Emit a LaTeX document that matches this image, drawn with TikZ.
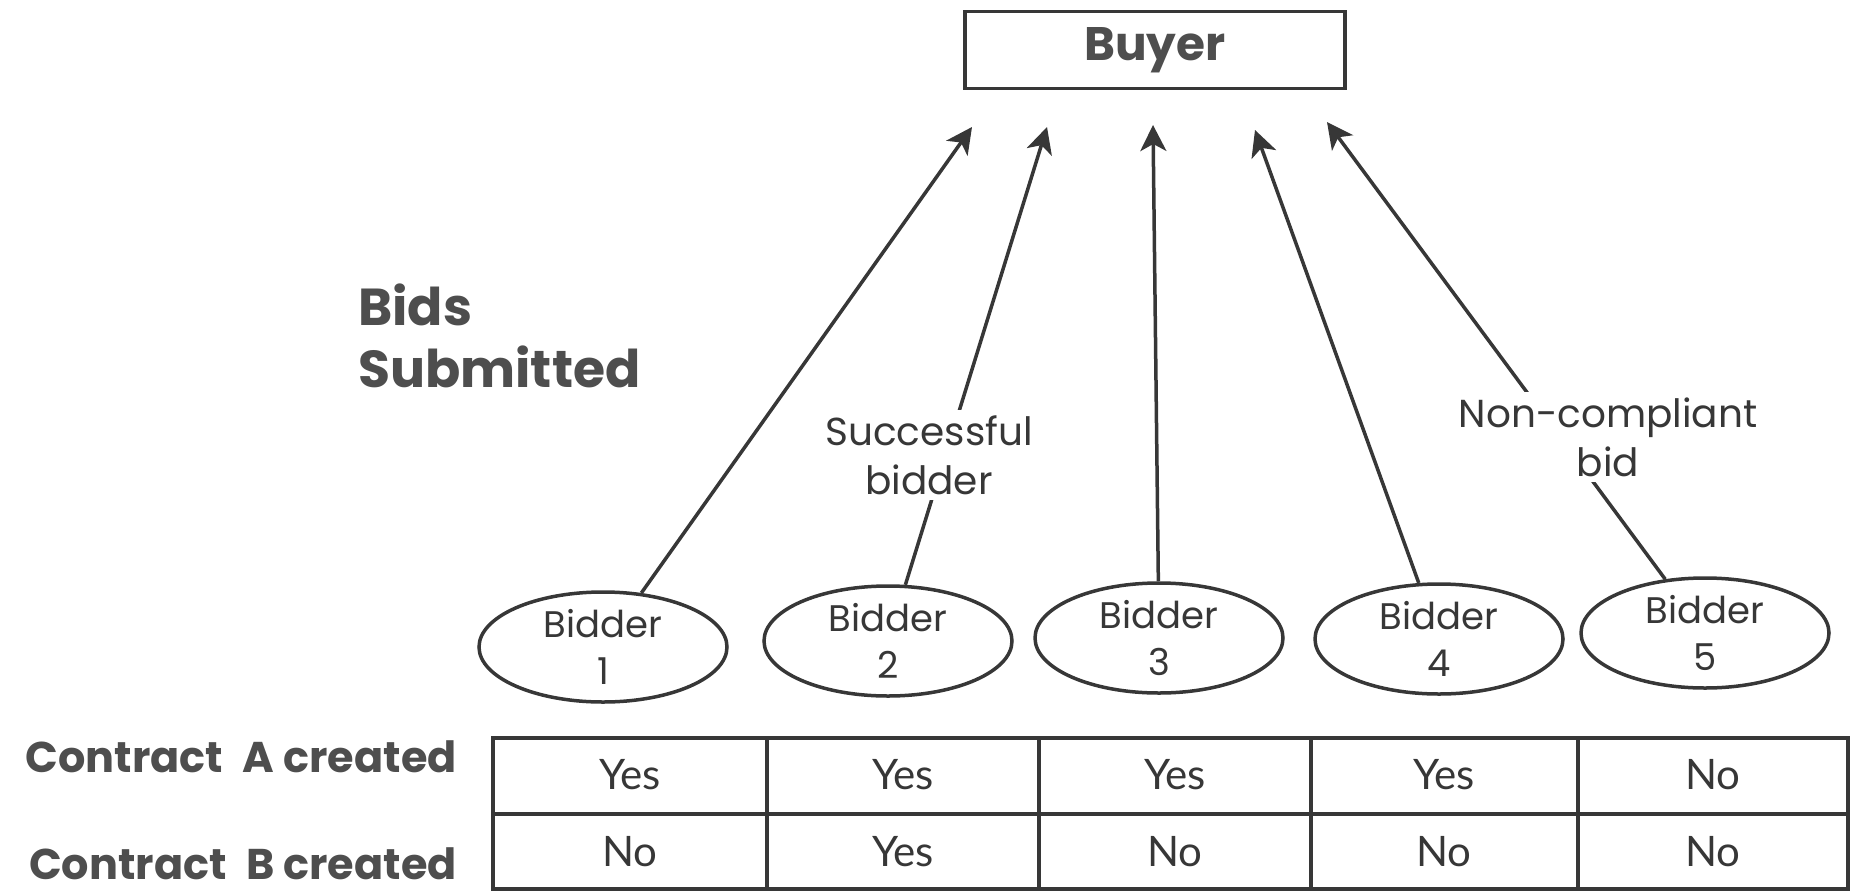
\documentclass[tikz,border=0pt]{standalone}
\usepackage{fontspec}
\setmainfont{Poppins}
\newfontfamily\cellfont{Lato}
\usetikzlibrary{shapes.geometric,arrows.meta}
\definecolor{ink}{RGB}{55,55,55}
\definecolor{txt}{RGB}{55,55,55}
\definecolor{hd}{RGB}{78,78,78}
\begin{document}
\begin{tikzpicture}[x=1pt,y=-1pt,
  bidder/.style={ellipse,draw=ink,line width=3.5pt,minimum width=248pt,minimum height=110pt,inner sep=0pt,align=center,text=txt,font=\fontsize{37}{47}\selectfont},
  conn/.style={draw=ink,line width=3.5pt,-{Stealth[length=26pt,width=26pt,inset=7pt]}},
  note/.style={fill=white,inner sep=5pt,align=center,text=txt,font=\fontsize{39}{49}\selectfont},
  head/.style={text=hd,font=\bfseries\fontsize{52}{62}\selectfont,align=left,inner sep=0pt},
  rowlab/.style={text=hd,font=\bfseries\fontsize{43}{50}\selectfont,inner sep=0pt,anchor=east},
  cell/.style={text=txt,font=\cellfont\fontsize{42}{50}\selectfont,inner sep=0pt},
  grid/.style={draw=ink,line width=3.5pt}
]
\useasboundingbox (0,0) rectangle (1850,894);

% Buyer box
\node[draw=ink,line width=3.5pt,minimum width=380pt,minimum height=77pt,inner sep=0pt,
      text=hd,font=\bfseries\fontsize{47}{56}\selectfont] (buyer) at (1155,50) {Buyer};

% arrow tips
\coordinate (t1) at (972,127);
\coordinate (t2) at (1047,127);
\coordinate (t3) at (1153,125);
\coordinate (t4) at (1255,130);
\coordinate (t5) at (1327,122);

% bidders
\node[bidder] (b1) at (603,647) {Bidder\\1};
\node[bidder] (b2) at (888,641) {Bidder\\2};
\node[bidder] (b3) at (1159,638) {Bidder\\3};
\node[bidder] (b4) at (1439,639) {Bidder\\4};
\node[bidder] (b5) at (1705,633) {Bidder\\5};

% connectors
\draw[conn] (b1) -- (t1);
\draw[conn] (b2) -- (t2);
\draw[conn] (b3) -- (t3);
\draw[conn] (b4) -- (t4);
\draw[conn] (b5) -- (t5);

% labels on connectors
\node[note] (succ) at (929,455) {Successful\\bidder};
\node[note] (nonc) at (1608,437) {Non-compliant\\bid};

% heading
\node[head,anchor=west] (bids) at (358,336) {Bids\\Submitted};

% table
\draw[grid] (493,738) rectangle (1848,889);
\draw[grid] (493,814) -- (1848,814);
\foreach \x in {767,1039,1311,1578} \draw[grid] (\x,738) -- (\x,889);

\node[rowlab] (ra) at (457,757) {Contract\hspace{0.45em}A created};
\node[rowlab] (rb) at (457,864) {Contract\hspace{0.45em}B created};

\node[cell] (a1) at (630,775) {Yes};
\node[cell] (a2) at (903,775) {Yes};
\node[cell] (a3) at (1175,775) {Yes};
\node[cell] (a4) at (1444,775) {Yes};
\node[cell] (a5) at (1713,775) {No};
\node[cell] (bb1) at (630,852) {No};
\node[cell] (bb2) at (903,852) {Yes};
\node[cell] (bb3) at (1175,852) {No};
\node[cell] (bb4) at (1444,852) {No};
\node[cell] (bb5) at (1713,852) {No};
\end{tikzpicture}
\end{document}
